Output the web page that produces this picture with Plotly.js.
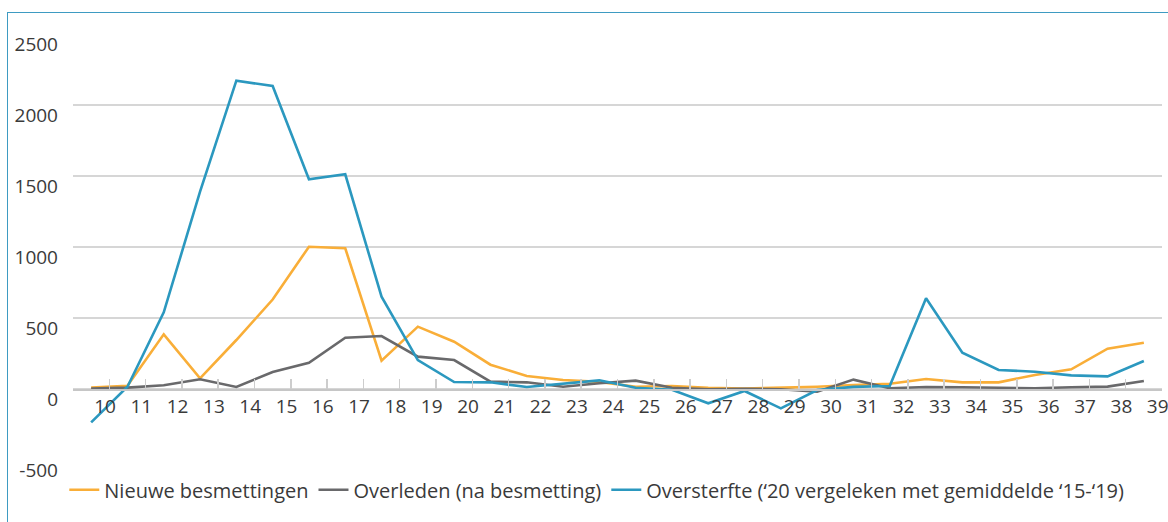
<!DOCTYPE html>
<html>
<head>
<meta charset="utf-8">
<script src="https://cdn.plot.ly/plotly-3.0.1.min.js"></script>
<style>
  html, body { margin: 0; padding: 0; background: #ffffff; }
  #wrap { position: relative; width: 1168px; height: 522px; overflow: hidden; }
  #chart { position: absolute; left: 0; top: 0; width: 1168px; height: 522px; }
  #frame { position: absolute; left: 7px; top: 12px; width: 1170px; height: 520px;
           border-top: 1px solid #3e9bc2; border-left: 1px solid #3e9bc2; pointer-events: none; }
</style>
</head>
<body>
<div id="wrap">
  <div id="chart"></div>
  <div id="frame"></div>
</div>
<script>
// Week numbers (categories)
const weeks = [10,11,12,13,14,15,16,17,18,19,20,21,22,23,24,25,26,27,28,29,30,31,32,33,34,35,36,37,38,39];

// Series values
const nieuweBesmettingen = [10, 23, 385, 75, 345, 630, 1002, 991, 199, 439, 333, 171, 92, 63, 50, 16, 21, 9, 3, 9, 16, 28, 37, 70, 47, 47, 99, 139, 284, 326];
const overleden          = [3, 10, 26, 68, 14, 120, 185, 361, 373, 228, 204, 52, 47, 16, 40, 59, 9, -2, 2, -2, -19, 66, 5, 14, 12, 9, 5, 12, 17, 56];
const oversterfte        = [-235, 16, 540, 1390, 2171, 2134, 1477, 1512, 650, 204, 49, 47, 14, 35, 61, 9, -5, -101, -14, -136, -7, 15, 21, 639, 256, 134, 122, 96, 89, 197];

// Axis tick values / labels
const yTicks = [-500, 0, 500, 1000, 1500, 2000, 2500];
const seriesNames = ["Nieuwe besmettingen", "Overleden (na besmetting)", "Oversterfte (\u201820 vergeleken met gemiddelde \u201815-\u201819)"];
const seriesColors = ["#f9ae38", "#69696b", "#2b98bf"];

const idx = weeks.map((w, i) => i);
// tick marks sit between categories; labels are drawn from them, shifted
const boundaryTicks = weeks.map((w, i) => i - 0.5).concat([weeks.length - 0.5]);
const boundaryText = weeks.map(w => String(w)).concat([""]);

const FONT = "Open Sans, Noto Sans, sans-serif";
const TXT = "#3a3a3a";

const traces = [nieuweBesmettingen, overleden, oversterfte].map((vals, k) => ({
  type: "scatter",
  mode: "lines",
  x: idx,
  y: vals,
  name: seriesNames[k],
  line: { color: seriesColors[k], width: 2.6 },
  hoverinfo: "skip"
}));

const yMin = -500, yMax = 2500;

const layout = {
  width: 1168,
  height: 522,
  margin: { l: 73, r: 6, t: 34, b: 62 },
  paper_bgcolor: "rgba(0,0,0,0)",
  plot_bgcolor: "rgba(0,0,0,0)",
  font: { family: FONT, size: 19, color: TXT },
  showlegend: true,
  legend: {
    orientation: "h",
    x: -0.008, xanchor: "left",
    y: -0.07, yanchor: "middle",
    font: { family: FONT, size: 20, color: TXT },
    bgcolor: "rgba(0,0,0,0)",
    itemwidth: 30,
    tracegroupgap: 0
  },
  xaxis: {
    type: "linear",
    range: [-0.5, weeks.length - 0.5],
    anchor: "free",
    position: (0 - yMin) / (yMax - yMin),
    tickmode: "array",
    tickvals: boundaryTicks,
    ticktext: boundaryText,
    ticks: "inside",
    ticklen: 10,
    tickwidth: 1.5,
    tickcolor: "#cdcdcd",
    ticklabelshift: 32,
    ticklabelstandoff: 0,
    ticklabeloverflow: "allow",
    showline: true,
    linecolor: "#c6c6c6",
    linewidth: 1.5,
    showgrid: false,
    zeroline: false,
    tickfont: { family: FONT, size: 19, color: TXT },
    fixedrange: true
  },
  yaxis: {
    range: [yMin, yMax],
    tickmode: "array",
    tickvals: yTicks,
    ticktext: yTicks.map(String),
    showgrid: true,
    gridcolor: "#d6d6d6",
    gridwidth: 1.5,
    zeroline: false,
    showline: false,
    ticks: "",
    ticklabelstandoff: 14,
    ticklabelshift: 10,
    tickfont: { family: FONT, size: 19, color: TXT },
    fixedrange: true
  }
};

Plotly.newPlot("chart", traces, layout, { displayModeBar: false, staticPlot: true });
</script>
</body>
</html>
